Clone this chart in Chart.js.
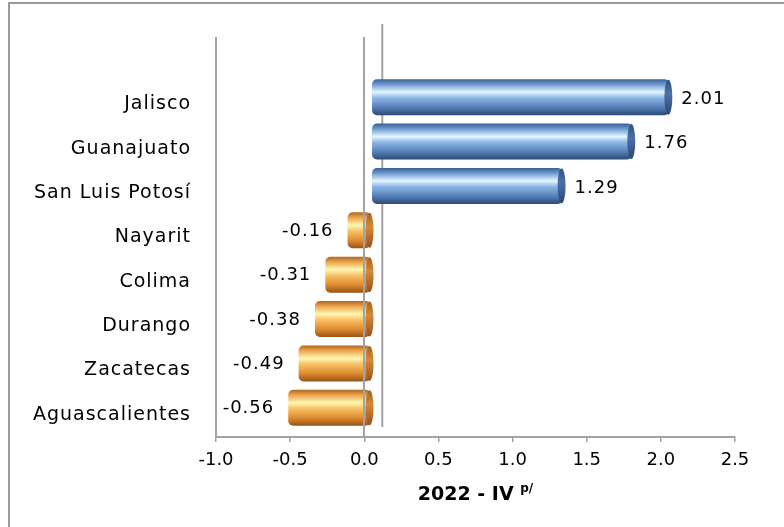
<!DOCTYPE html>
<html>
<head>
<meta charset="utf-8">
<script src="https://cdn.jsdelivr.net/npm/chart.js@4.4.1/dist/chart.umd.min.js"></script>
<style>
  body { margin: 0; background: #fff; }
  #wrap { width: 784px; height: 527px; }
</style>
</head>
<body>
<div id="wrap"><canvas id="myChart"></canvas></div>
<script>
const states = ['Jalisco', 'Guanajuato', 'San Luis Potosí', 'Nayarit', 'Colima', 'Durango', 'Zacatecas', 'Aguascalientes'];
const values = [2.01, 1.76, 1.29, -0.16, -0.31, -0.38, -0.49, -0.56];
const xTicks = [-1.0, -0.5, 0.0, 0.5, 1.0, 1.5, 2.0, 2.5];
const axisTitle = '2022 - IV';
const axisTitleSup = 'p/';

const FONT = "'DejaVu Sans', sans-serif";
const LINE = '#a3a3a3';
const BAR_PCT = 0.81;

// cylinder shading, top to bottom
const blueStops = [[0, '#3b5f92'], [0.14, '#6c98cf'], [0.36, '#e2f6ff'], [0.52, '#8db6e6'], [0.78, '#5580b9'], [1, '#2c4a74']];
const orangeStops = [[0, '#b06620'], [0.14, '#eba24a'], [0.36, '#fff7b4'], [0.52, '#f8c265'], [0.78, '#de8a30'], [1, '#995316']];
const blueCap = [[0, '#2f4f7e'], [0.4, '#4a72a8'], [1, '#2a466e']];
const orangeCap = [[0, '#a65e1c'], [0.4, '#d58a36'], [1, '#94501a']];

function bandGradient(chart, index, stops) {
  const y = chart.scales.y;
  const mid = y.getPixelForValue(index);
  const half = y.height / states.length * BAR_PCT / 2;
  const g = chart.ctx.createLinearGradient(0, mid - half, 0, mid + half);
  stops.forEach(([o, c]) => g.addColorStop(o, c));
  return g;
}

function barFill(context) {
  const chart = context.chart;
  const pos = values[context.dataIndex] >= 0;
  if (!chart.chartArea || !chart.scales.y) return pos ? '#5b86bf' : '#f0a040';
  return bandGradient(chart, context.dataIndex, pos ? blueStops : orangeStops);
}

const cylinders = {
  id: 'cylinders',
  afterLayout(chart) {
    // category labels are drawn a little spaced out
    const s = chart.scales.y;
    if (s && !s._spaced) {
      const orig = s.drawLabels;
      s.drawLabels = function (area) {
        chart.ctx.save();
        chart.ctx.letterSpacing = '1px';
        orig.call(this, area);
        chart.ctx.restore();
      };
      s._spaced = true;
    }
  },
  beforeDraw(chart) {
    const ctx = chart.ctx;
    ctx.save();
    ctx.strokeStyle = '#9a9a9a';
    ctx.lineWidth = 2;
    ctx.beginPath();
    ctx.moveTo(9, chart.height + 5);
    ctx.lineTo(9, 3);
    ctx.lineTo(chart.width + 5, 3);
    ctx.stroke();
    ctx.restore();
  },
  beforeDatasetsDraw(chart) {
    const { ctx, chartArea: a, scales: { x } } = chart;
    const x0 = x.getPixelForValue(0);
    ctx.save();
    ctx.strokeStyle = LINE;
    ctx.lineWidth = 2;
    ctx.beginPath();
    ctx.moveTo(x0 + 18, a.top - 58);
    ctx.lineTo(x0 + 18, a.bottom - 10);
    ctx.stroke();
    ctx.restore();
    ctx.save();
    ctx.translate(7, -7);
  },
  afterDatasetsDraw(chart) {
    const { ctx, chartArea: a, scales: { x } } = chart;
    const meta = chart.getDatasetMeta(0);
    meta.data.forEach((el, i) => {
      const v = values[i];
      const pos = v >= 0;
      const capX = Math.max(el.x, el.base);
      const h = el.height / 2;
      ctx.fillStyle = bandGradient(chart, i, pos ? blueCap : orangeCap);
      ctx.beginPath();
      ctx.ellipse(capX - 1, el.y, 4, h - 0.5, 0, 0, Math.PI * 2);
      ctx.fill();

      ctx.font = '18px ' + FONT;
      ctx.letterSpacing = '1px';
      ctx.fillStyle = '#000';
      ctx.textBaseline = 'middle';
      if (pos) {
        ctx.textAlign = 'left';
        ctx.fillText(v.toFixed(2), el.x + 12, el.y + 2);
      } else {
        ctx.textAlign = 'right';
        ctx.fillText(v.toFixed(2), el.x - 14, el.y + 1);
      }
    });
    ctx.restore();

    // walls at -1.0 and 0.0 in front of the bars
    ctx.save();
    ctx.strokeStyle = LINE;
    ctx.lineWidth = 2;
    [xTicks[0], 0].forEach(v => {
      const px = Math.round(x.getPixelForValue(v));
      ctx.beginPath();
      ctx.moveTo(px, a.top - 45);
      ctx.lineTo(px, a.bottom);
      ctx.stroke();
    });
    ctx.restore();
  },
  afterDraw(chart) {
    const { ctx, chartArea: a } = chart;
    ctx.save();
    ctx.fillStyle = '#000';
    ctx.textBaseline = 'middle';
    ctx.textAlign = 'left';
    ctx.font = 'bold 19px ' + FONT;
    const w1 = ctx.measureText(axisTitle + ' ').width;
    ctx.font = 'bold 12px ' + FONT;
    const w2 = ctx.measureText(axisTitleSup).width;
    const cx = (a.left + a.right) / 2;
    const left = cx - (w1 + w2) / 2;
    const cy = a.bottom + 58;
    ctx.font = 'bold 19px ' + FONT;
    ctx.fillText(axisTitle + ' ', left, cy);
    ctx.font = 'bold 12px ' + FONT;
    ctx.fillText(axisTitleSup, left + w1, cy - 6);
    ctx.restore();
  }
};

const data = {
  labels: states,
  datasets: [{
    data: values,
    backgroundColor: barFill,
    borderWidth: 0,
    borderRadius: 5,
    borderSkipped: false,
    barPercentage: BAR_PCT,
    categoryPercentage: 1,
    clip: false
  }]
};

const config = {
  type: 'bar',
  data: data,
  options: {
    indexAxis: 'y',
    responsive: true,
    maintainAspectRatio: false,
    animation: false,
    layout: { padding: { top: 82, right: 49, left: 0, bottom: 0 } },
    plugins: {
      legend: { display: false },
      tooltip: { enabled: false }
    },
    scales: {
      x: {
        min: xTicks[0],
        max: xTicks[xTicks.length - 1],
        afterBuildTicks: scale => { scale.ticks = xTicks.map(v => ({ value: v })); },
        afterFit: scale => { scale.height = 90; },
        grid: { drawOnChartArea: false, drawTicks: true, tickLength: 5, color: LINE, lineWidth: 1.5 },
        border: { display: true, color: LINE, width: 2 },
        ticks: {
          padding: 8,
          color: '#000',
          font: { family: FONT, size: 18 },
          callback: v => Number(v).toFixed(1)
        }
      },
      y: {
        afterFit: scale => { scale.width = 216; },
        grid: { display: false, drawTicks: false },
        border: { display: false },
        ticks: {
          padding: 25,
          color: '#000',
          font: { family: FONT, size: 19 }
        }
      }
    }
  },
  plugins: [cylinders]
};

const myChart = new Chart(document.getElementById('myChart'), config);
</script>
</body>
</html>
